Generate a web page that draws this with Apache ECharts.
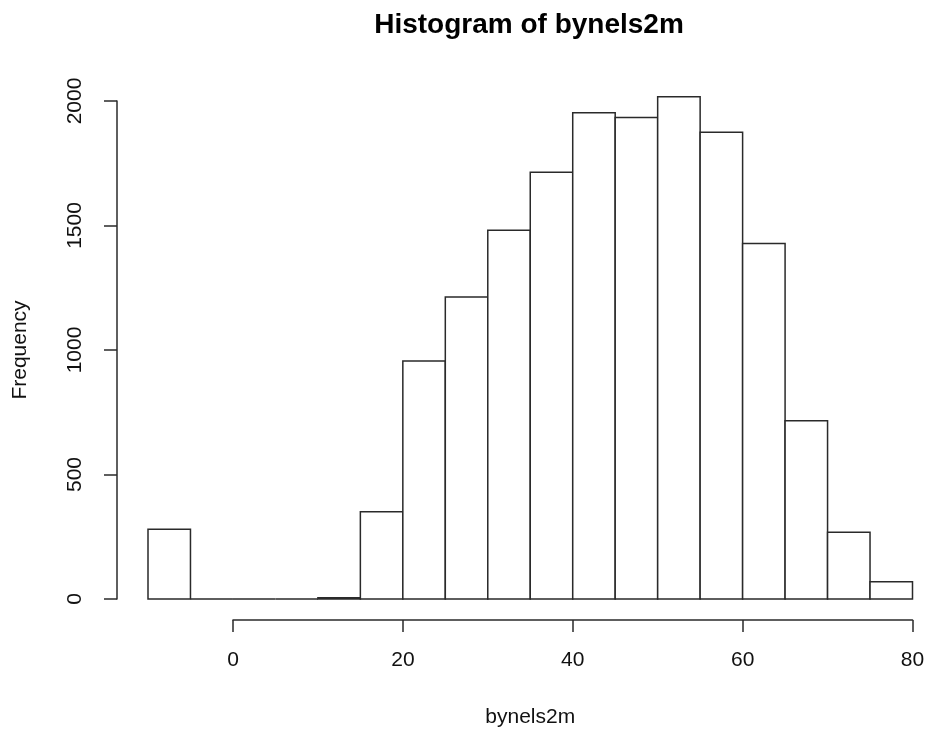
<!DOCTYPE html>
<html>
<head>
<meta charset="utf-8">
<script src="https://cdn.jsdelivr.net/npm/echarts@6/dist/echarts.min.js"></script>
<style>
html,body{margin:0;padding:0;background:#fff;}
#main{width:929px;height:734px;}
</style>
</head>
<body>
<div id="main"></div>
<script>
// Histogram bins (left edge, right edge) and counts
const binStarts = [-10, -5, 0, 5, 10, 15, 20, 25, 30, 35, 40, 45, 50, 55, 60, 65, 70, 75];
const binEnds   = [-5, 0, 5, 10, 15, 20, 25, 30, 35, 40, 45, 50, 55, 60, 65, 70, 75, 80];
const counts    = [280, 0, 0, 0, 5, 350, 956, 1213, 1481, 1714, 1953, 1934, 2017, 1875, 1428, 716, 268, 69];
const xTicks = [0, 20, 40, 60, 80];
const yTicks = [0, 500, 1000, 1500, 2000];

const FONT = '"Liberation Sans", Arial, sans-serif';
const LINE = '#2a2a2a';

const data = binStarts.map((s, i) => [s, binEnds[i], counts[i]]);

const chart = echarts.init(document.getElementById('main'), null, {renderer: 'canvas'});
chart.setOption({
  backgroundColor: '#fff',
  animation: false,
  title: {
    text: 'Histogram of bynels2m',
    left: 524, top: 6, textAlign: 'center',
    textStyle: {fontFamily: FONT, fontWeight: 'bold', fontSize: 28, color: '#000'}
  },
  grid: [
    {left: 148, right: 16.5, top: 101, bottom: 135},
    {left: 233, right: 16.5, top: 600, bottom: 114}
  ],
  xAxis: [
    {
      gridIndex: 0, type: 'value', min: -10, max: 80,
      axisLine: {show: false}, axisTick: {show: false}, axisLabel: {show: false},
      splitLine: {show: false},
      name: 'bynels2m', nameLocation: 'middle', nameGap: 108,
      nameTextStyle: {fontFamily: FONT, fontSize: 21, color: '#111'}
    },
    {
      gridIndex: 1, type: 'value', min: 0, max: 80, interval: 20,
      axisLine: {show: true, onZero: false, lineStyle: {color: LINE, width: 1.5}},
      axisTick: {show: true, length: 12, lineStyle: {color: LINE, width: 1.5}},
      axisLabel: {show: true, margin: 30, fontFamily: FONT, fontSize: 21, color: '#111',
        formatter: v => xTicks.includes(v) ? String(v) : ''},
      splitLine: {show: false}
    }
  ],
  yAxis: [
    {
      gridIndex: 0, type: 'value', min: 0, max: 2000, interval: 500, offset: 31,
      axisLine: {show: true, onZero: false, lineStyle: {color: LINE, width: 1.5}},
      axisTick: {show: true, length: 13, lineStyle: {color: LINE, width: 1.5}},
      axisLabel: {show: true, rotate: 90, margin: 31, fontFamily: FONT, fontSize: 21, color: '#111',
        formatter: v => yTicks.includes(v) ? String(v) : ''},
      splitLine: {show: false},
      name: 'Frequency', nameLocation: 'middle', nameGap: 86, nameRotate: 90,
      nameTextStyle: {fontFamily: FONT, fontSize: 21, color: '#111'}
    },
    {
      gridIndex: 1, type: 'value', show: false
    }
  ],
  series: [{
    type: 'custom',
    xAxisIndex: 0, yAxisIndex: 0,
    clip: false,
    encode: {x: [0, 1], y: 2},
    data: data,
    renderItem: function (params, api) {
      const p0 = api.coord([api.value(0), 0]);
      const p1 = api.coord([api.value(1), api.value(2)]);
      return {
        type: 'rect',
        shape: {x: p0[0], y: p1[1], width: p1[0] - p0[0], height: p0[1] - p1[1]},
        style: {fill: '#fff', stroke: LINE, lineWidth: 1.5}
      };
    }
  }]
});
</script>
</body>
</html>
